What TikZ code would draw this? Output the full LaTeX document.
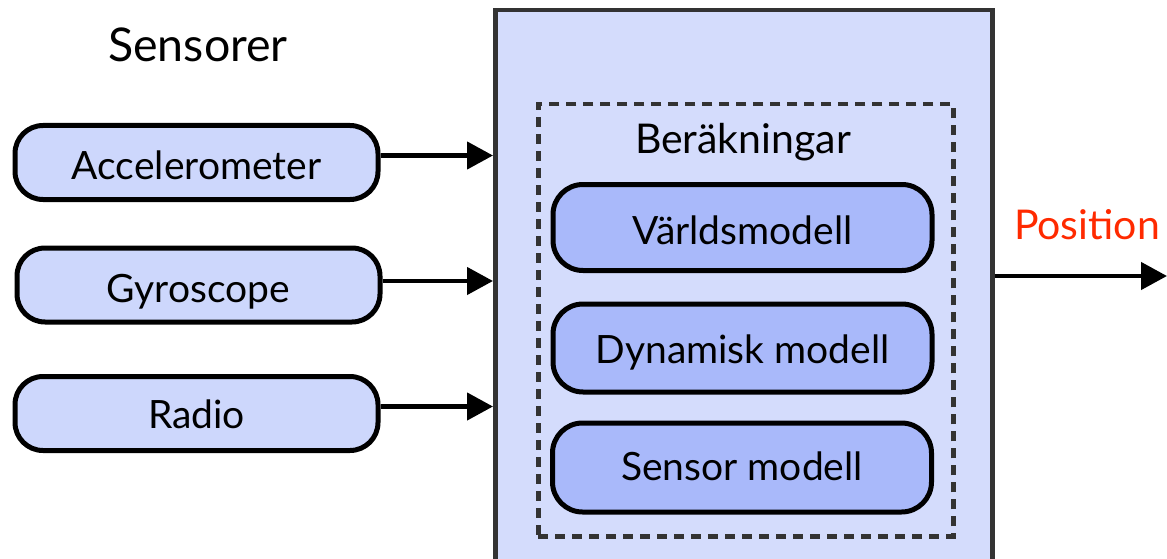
\documentclass[tikz,border=0pt]{standalone}
\usepackage{fontspec}
\setmainfont{Lato}
\usetikzlibrary{arrows.meta}

\definecolor{framefill}{HTML}{D4DCFC}
\definecolor{inputfill}{HTML}{CDD7FC}
\definecolor{modelfill}{HTML}{A9B9FA}
\definecolor{framegray}{HTML}{333333}
\definecolor{posred}{HTML}{FF2A00}

\tikzset{
  labelfont/.style={font=\fontsize{39}{44}\selectfont},
  bigfont/.style={font=\fontsize{41}{46}\selectfont},
  % baseline sits about 16pt below the box centre
  lowtext/.style={text height=#1, text depth=0pt},
  lowtext/.default=32pt,
  inputbox/.style={draw=black, line width=5pt, fill=inputfill, rounded corners=28pt,
    minimum width=363pt, minimum height=74pt, inner sep=0pt, labelfont, lowtext},
  modelbox/.style={draw=black, line width=5pt, fill=modelfill, rounded corners=30pt,
    minimum width=379pt, minimum height=86pt, inner sep=0pt, labelfont, lowtext},
  flow/.style={line width=4.5pt, -{Triangle[length=26pt,width=27pt]}},
}

\begin{document}
\begin{tikzpicture}[x=1pt,y=-1pt]
\useasboundingbox (0,0) rectangle (1167,559);
\clip (0,0) rectangle (1167,559);

% outer processing block
\node[draw=framegray, line width=4.5pt, fill=framefill, minimum width=497pt,
  minimum height=570pt, anchor=north west, inner sep=0pt] (frame) at (493,8) {};

% dashed computation group
\node[draw=framegray, line width=4.5pt, dash pattern=on 10pt off 7pt,
  minimum width=415pt, minimum height=432pt, anchor=north west, inner sep=0pt]
  (calc) at (536,102) {};
\node[bigfont] (calctitle) at (743,142) {Beräkningar};

% models
\node[modelbox, lowtext=34pt] (world) at (742.5,227.5) {Världsmodell};
\node[modelbox, minimum height=88pt, lowtext=30pt] (dyn) at (742.5,348) {Dynamisk modell};
\node[modelbox, minimum height=89pt, lowtext=26pt] (sens) at (742,467.5) {Sensor modell};

% sensors
\node[font=\fontsize{46.5}{52}\selectfont] (sensorer) at (198,45) {Sensorer};
\node[inputbox, lowtext=33pt] (acc)  at (196.5,162.5) {Accelerometer};
\node[inputbox, lowtext=34pt] (gyro) at (198.5,285) {Gyroscope};
\node[inputbox, lowtext=29pt] (rad)  at (196.5,413.5) {Radio};

% sensor signals into the block
\draw[flow] ([yshift=7pt]acc.east)  -- ([yshift=7pt]acc.east -| frame.west);
\draw[flow] ([yshift=4pt]gyro.east) -- ([yshift=4pt]gyro.east -| frame.west);
\draw[flow] ([yshift=7pt]rad.east)  -- ([yshift=7pt]rad.east -| frame.west);

% output
\coordinate (out) at (1167,276);
\draw[flow] (out -| frame.east) -- (out);
\node[bigfont, text=posred] (pos) at (1087,225) {Position};
\end{tikzpicture}
\end{document}
